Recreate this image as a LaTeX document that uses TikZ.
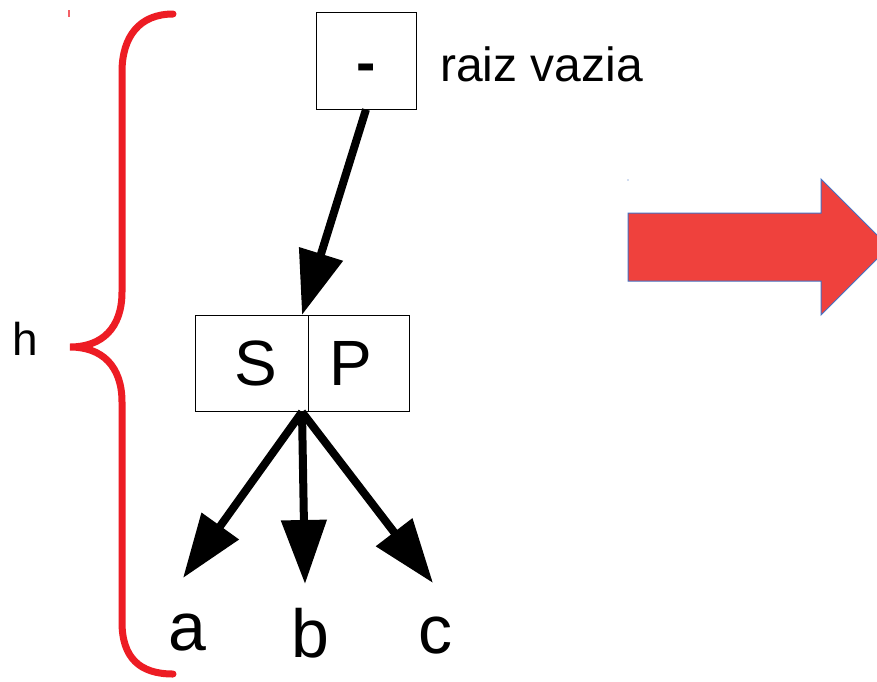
\documentclass[tikz,border=0pt]{standalone}
\usepackage{fontspec}
\setmainfont{Liberation Sans}
\usetikzlibrary{arrows.meta}
\definecolor{bracered}{HTML}{ED1C24}
\definecolor{blockred}{HTML}{EF413D}
\definecolor{blockedge}{HTML}{4472C4}
\tikzset{
  cell/.style={draw=black,line width=1pt,inner sep=0pt,fill=white},
  bigarrow/.style={line width=8pt,-{Triangle[length=64pt,width=44pt]}},
  lbl/.style={inner sep=0pt,anchor=base},
}
\begin{document}
\begin{tikzpicture}[x=1pt,y=-1pt]
\clip (0,0) rectangle (877,681);
\fill[white] (0,0) rectangle (877,681);

% brace
\draw[bracered,line width=7pt,line cap=round]
  (173,14) .. controls (140,14) and (122,36) .. (122,72)
  -- (122,292) .. controls (122,328) and (102,347) .. (70,347)
  .. controls (102,347) and (122,366) .. (122,402)
  -- (122,622) .. controls (122,658) and (140,674) .. (173,674);
\draw[bracered!70,line width=1.5pt] (69,10) -- (69,17);
\node[lbl,font=\fontsize{46}{50}\selectfont] (h) at (25,355) {h};

% root
\node[cell,minimum width=100pt,minimum height=97pt] (root) at (366,60.5) {};
\node[lbl,font=\fontsize{58}{60}\selectfont\bfseries] (dash) at (366,82) {-};
\node[lbl,anchor=base west,font=\fontsize{48}{54}\selectfont] (raiz) at (440,81) {raiz vazia};

% S | P
\node[cell,minimum width=113pt,minimum height=96pt] (S) at (251.5,363) {};
\node[cell,minimum width=101pt,minimum height=96pt] (P) at (358.5,363) {};
\node[lbl,font=\fontsize{64}{70}\selectfont] (Stxt) at (256,385) {S};
\node[lbl,font=\fontsize{64}{70}\selectfont] (Ptxt) at (351,385) {P};

\coordinate (sptop) at (302,315);
\coordinate (fork) at (302,412);
\coordinate (ta) at (183,578);
\coordinate (tb) at (305,584);
\coordinate (tc) at (433,583);

\draw[bigarrow] (root.south -| 366,0) -- (sptop);
\draw[bigarrow] (fork) -- (ta);
\draw[bigarrow] (fork) -- (tb);
\draw[bigarrow] (fork) -- (tc);

\node[lbl,font=\fontsize{68}{70}\selectfont] (a) at (187,650) {a};
\node[lbl,font=\fontsize{68}{70}\selectfont] (b) at (310,657) {b};
\node[lbl,font=\fontsize{68}{70}\selectfont] (c) at (435,653) {c};

% block arrow
\draw[blockedge,line width=1pt,fill=blockred]
  (628,213) -- (821,213) -- (821,179) -- (889,247) -- (821,315) -- (821,281) -- (628,281) -- cycle;
\fill[blockedge] (628,180) circle (0.6pt);
\end{tikzpicture}
\end{document}
